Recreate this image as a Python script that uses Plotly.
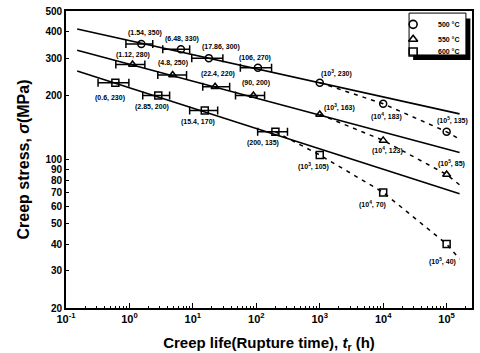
import plotly.graph_objects as go
import math

# ---------------- data ----------------
temps = ["500 °C", "550 °C", "600 °C"]
symbols = ["circle-open", "triangle-up-open", "square-open"]

# experimental points (rupture time h, stress MPa)
exp_t = {
    "500 °C": [1.54, 6.48, 17.86, 106],
    "550 °C": [1.12, 4.8, 22.4, 90],
    "600 °C": [0.6, 2.85, 15.4, 200],
}
exp_s = {
    "500 °C": [350, 330, 300, 270],
    "550 °C": [280, 250, 220, 200],
    "600 °C": [230, 200, 170, 135],
}
# scatter range of rupture time (lower, upper), h
exp_lo = {
    "500 °C": [0.88, 3.35, 9.6, 56],
    "550 °C": [0.61, 2.8, 14.3, 47],
    "600 °C": [0.32, 1.62, 8.9, 105],
}
exp_hi = {
    "500 °C": [2.33, 8.9, 29.7, 174],
    "550 °C": [1.75, 7.95, 38, 135],
    "600 °C": [0.98, 4.3, 24.6, 310],
}
exp_labels = {
    "500 °C": ["(1.54, 350)", "(6.48, 330)", "(17.86, 300)", "(106, 270)"],
    "550 °C": ["(1.12, 280)", "(4.8, 250)", "(22.4, 220)", "(90, 200)"],
    "600 °C": ["(0.6, 230)", "(2.85, 200)", "(15.4, 170)", "(200, 135)"],
}

# predicted points
pred_t = {
    "500 °C": [1e3, 1e4, 1e5],
    "550 °C": [1e3, 1e4, 1e5],
    "600 °C": [1e3, 1e4, 1e5],
}
pred_s = {
    "500 °C": [230, 183, 135],
    "550 °C": [163, 123, 85],
    "600 °C": [105, 70, 40],
}
pred_labels = {
    "500 °C": ["(10<sup>3</sup>, 230)", "(10<sup>4</sup>, 183)", "(10<sup>5</sup>, 135)"],
    "550 °C": ["(10<sup>3</sup>, 163)", "(10<sup>4</sup>, 123)", "(10<sup>5</sup>, 85)"],
    "600 °C": ["(10<sup>3</sup>, 105)", "(10<sup>4</sup>, 70)", "(10<sup>5</sup>, 40)"],
}

# solid fitted lines (end points)
fit_t = [0.15, 1.6e5]
fit_s = {
    "500 °C": [411, 164],
    "550 °C": [327, 108],
    "600 °C": [261, 69],
}

# dashed extrapolation lines
dash_t = {
    "500 °C": [1e3, 1e4, 1e5, 1.5e5],
    "550 °C": [1e3, 1e4, 1e5, 1.6e5],
    "600 °C": [200, 1e3, 1e4, 1e5, 1.6e5],
}
dash_s = {
    "500 °C": [230, 183, 135, 126],
    "550 °C": [163, 123, 85, 76],
    "600 °C": [135, 105, 70, 40, 34],
}

# label offsets (pixels): experimental, predicted
exp_off = {
    "500 °C": [(4, 11), (1, 10), (12, 11), (-3, 10)],
    "550 °C": [(0, 10), (0, 12), (3, 13), (3, 13)],
    "600 °C": [(-5, -15), (-6, -11), (-7, -11), (-12, -11)],
}
pred_off = {
    "500 °C": [(17, 9), (3, -13), (6, 11)],
    "550 °C": [(20, 7), (4, -10), (5, 11)],
    "600 °C": [(-6, -11), (-11, -12), (-4, -17)],
}

y_ticks = [20, 30, 40, 50, 60, 70, 80, 90, 100, 200, 300, 400, 500]
x_ticks = [0.1, 1, 10, 100, 1e3, 1e4, 1e5]
x_ticktext = ["10<sup>-1</sup>", "10<sup>0</sup>", "10<sup>1</sup>", "10<sup>2</sup>",
              "10<sup>3</sup>", "10<sup>4</sup>", "10<sup>5</sup>"]
x_minor = [m * d for d in x_ticks for m in range(2, 10) if m * d < 2.5e5]

# legend layout (fraction of plot area)
leg_marker_x = 0.855
leg_text_x = 0.912
leg_y = [0.955, 0.905, 0.862]

FONT = "Liberation Sans, Arial, sans-serif"

fig = go.Figure()

for T, sym in zip(temps, symbols):
    fig.add_trace(go.Scatter(x=fit_t, y=fit_s[T], mode="lines",
                             line=dict(color="black", width=1.6), showlegend=False,
                             hoverinfo="skip"))
    fig.add_trace(go.Scatter(x=dash_t[T], y=dash_s[T], mode="lines",
                             line=dict(color="black", width=1.5, dash="4px,5px"),
                             showlegend=False, hoverinfo="skip"))
    plus = [h - t for h, t in zip(exp_hi[T], exp_t[T])]
    minus = [t - l for l, t in zip(exp_lo[T], exp_t[T])]
    fig.add_trace(go.Scatter(x=exp_t[T], y=exp_s[T], mode="markers",
                             marker=dict(symbol=sym, size=7, color="black",
                                         line=dict(width=1.5, color="black")),
                             error_x=dict(type="data", array=plus, arrayminus=minus,
                                          symmetric=False, color="black", thickness=1.5,
                                          width=4),
                             name=T, showlegend=False))
    fig.add_trace(go.Scatter(x=pred_t[T], y=pred_s[T], mode="markers",
                             marker=dict(symbol=sym, size=7, color="black",
                                         line=dict(width=1.5, color="black")),
                             showlegend=False))
    for xv, yv, txt, (dx, dy) in zip(exp_t[T], exp_s[T], exp_labels[T], exp_off[T]):
        fig.add_annotation(x=math.log10(xv), y=math.log10(yv), text=txt, showarrow=False,
                           xshift=dx, yshift=dy,
                           font=dict(family=FONT, size=7, color="black", weight="bold"))
    for xv, yv, txt, (dx, dy) in zip(pred_t[T], pred_s[T], pred_labels[T], pred_off[T]):
        fig.add_annotation(x=math.log10(xv), y=math.log10(yv), text=txt, showarrow=False,
                           xshift=dx, yshift=dy,
                           font=dict(family=FONT, size=7, color="black", weight="bold"))

# custom legend: markers on an overlay axis spanning the plot area
for T, sym, ly in zip(temps, symbols, leg_y):
    fig.add_trace(go.Scatter(x=[leg_marker_x], y=[ly], xaxis="x2", yaxis="y2",
                             mode="markers", showlegend=False, hoverinfo="skip",
                             marker=dict(symbol=sym, size=8, color="black",
                                         line=dict(width=1.6, color="black"))))
    fig.add_annotation(xref="paper", yref="paper", x=leg_text_x, y=ly, text=T,
                       showarrow=False, xanchor="left", yanchor="middle",
                       font=dict(family=FONT, size=7, color="black", weight="bold"))

# legend box with shadow
fig.add_shape(type="rect", xref="paper", yref="paper",
              x0=0.855, x1=0.996, y0=0.835, y1=0.975,
              fillcolor="black", line=dict(width=0), layer="below")
fig.add_shape(type="rect", xref="paper", yref="paper",
              x0=0.845, x1=0.985, y0=0.852, y1=0.993,
              fillcolor="white", line=dict(width=1, color="black"), layer="below")

fig.update_layout(
    width=480, height=353,
    margin=dict(l=66, r=8, t=11, b=45),
    paper_bgcolor="white", plot_bgcolor="white",
    font=dict(family=FONT, color="black"),
    showlegend=False,
    xaxis=dict(type="log", range=[-1, 5.4], tickvals=x_ticks, ticktext=x_ticktext,
               automargin=False,
               ticks="inside", ticklen=5, tickwidth=1.2, tickcolor="black",
               minor=dict(ticks="inside", ticklen=2.5, tickwidth=1, tickcolor="black",
                          tickvals=x_minor),
               showline=True, linecolor="black", linewidth=1.6, mirror=True,
               showgrid=False, zeroline=False,
               tickfont=dict(family=FONT, size=11, weight="bold"),
               title=dict(text="Creep life(Rupture time), <i>t</i><sub>r</sub> (h)",
                          font=dict(family=FONT, size=15, weight="bold"), standoff=13)),
    yaxis=dict(type="log", range=[math.log10(20), math.log10(500)], tickvals=y_ticks,
               ticktext=[str(v) for v in y_ticks], automargin=False,
               ticks="inside", ticklen=3, tickwidth=1.2, tickcolor="black",
               showline=True, linecolor="black", linewidth=1.6, mirror=True,
               showgrid=False, zeroline=False,
               tickfont=dict(family=FONT, size=10, weight="bold"),
               title=dict(text="Creep stress, <i>σ</i>(MPa)",
                          font=dict(family=FONT, size=16, weight="bold"), standoff=12)),
    xaxis2=dict(overlaying="x", range=[0, 1], visible=False, fixedrange=True),
    yaxis2=dict(overlaying="y", range=[0, 1], visible=False, fixedrange=True),
)

fig.write_html("out.html")
